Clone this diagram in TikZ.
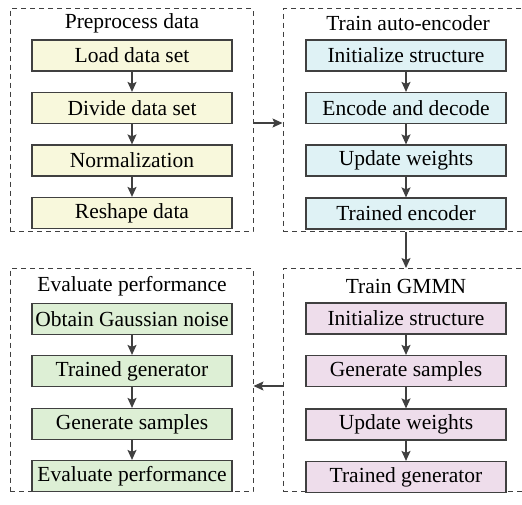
\documentclass[tikz,border=0pt]{standalone}
\usepackage{fontspec}
\setmainfont{Liberation Serif}
\usetikzlibrary{positioning,arrows.meta}

\definecolor{boxline}{HTML}{404040}
\definecolor{prefill}{HTML}{F8F8DC}
\definecolor{aefill}{HTML}{DFF2F5}
\definecolor{gmfill}{HTML}{EEDDEB}
\definecolor{evfill}{HTML}{DDEFD5}

\tikzset{
    frame/.style = {draw = boxline, line width = 1pt, dash pattern = on 5pt off 4pt,
                    minimum width = 246, minimum height = 223, inner sep = 0pt},
    stepbox/.style = {draw = boxline, line width = 1.2pt, minimum width = 200,
                      minimum height = 31, inner sep = 0pt},
    title/.style = {inner sep = 0pt},
    link/.style = {->, draw = boxline, line width = 1.2pt}
}

\begin{document}
\begin{tikzpicture}[>={Stealth[length=10pt, width=9pt, inset=2pt]}, x = 1pt, y = 1pt,
    every node/.style = {font = \fontsize{21.5}{24}\selectfont}]
    \clip (0, 0) rectangle (522, -504);

    % frames
    \node [frame, minimum width = 243] (fp) at (131.5, -120) {};
    \node [frame] (fa) at (406, -120) {};
    \node [frame] (fg) at (406, -380) {};
    \node [frame, minimum width = 243] (fe) at (131.5, -380) {};

    \node [title] at (132, -23) {Preprocess data};
    \node [title] at (408, -23) {Train auto-encoder};
    \node [title] at (406, -286) {Train GMMN};
    \node [title] at (132, -286) {Evaluate performance};

    % preprocess
    \node (p1) [stepbox, fill = prefill] at (132, -55.5) {Load data set};
    \node (p2) [stepbox, fill = prefill] at (132, -108) {Divide data set};
    \node (p3) [stepbox, fill = prefill] at (132, -160.5) {Normalization};
    \node (p4) [stepbox, fill = prefill] at (132, -213) {Reshape data};

    % auto-encoder
    \node (a1) [stepbox, fill = aefill] at (406, -55.5) {Initialize structure};
    \node (a2) [stepbox, fill = aefill] at (406, -108) {Encode and decode};
    \node (a3) [stepbox, fill = aefill] at (406, -160.5) {Update weights};
    \node (a4) [stepbox, fill = aefill] at (406, -213.5) {Trained encoder};

    % GMMN
    \node (g1) [stepbox, fill = gmfill] at (406, -318.5) {Initialize structure};
    \node (g2) [stepbox, fill = gmfill] at (406, -371) {Generate samples};
    \node (g3) [stepbox, fill = gmfill] at (406, -424.5) {Update weights};
    \node (g4) [stepbox, fill = gmfill] at (406, -477) {Trained generator};

    % evaluation
    \node (e1) [stepbox, fill = evfill] at (132, -319) {Obtain Gaussian noise};
    \node (e2) [stepbox, fill = evfill] at (132, -371) {Trained generator};
    \node (e3) [stepbox, fill = evfill] at (132, -424) {Generate samples};
    \node (e4) [stepbox, fill = evfill] at (132, -476) {Evaluate performance};

    \foreach \col in {p, a, g, e}{
        \foreach \i [evaluate = \i as \j using int(\i + 1)] in {1, 2, 3}{
            \draw [link] (\col\i) -- (\col\j);
        }
    }

    \draw [link] ([yshift = -3pt] fp.east) -- ([yshift = -3pt] fa.west);
    \draw [link] (fa.south) -- (fg.north);
    \draw [link] ([yshift = -6pt] fg.west) -- ([yshift = -6pt] fe.east);

\end{tikzpicture}
\end{document}
